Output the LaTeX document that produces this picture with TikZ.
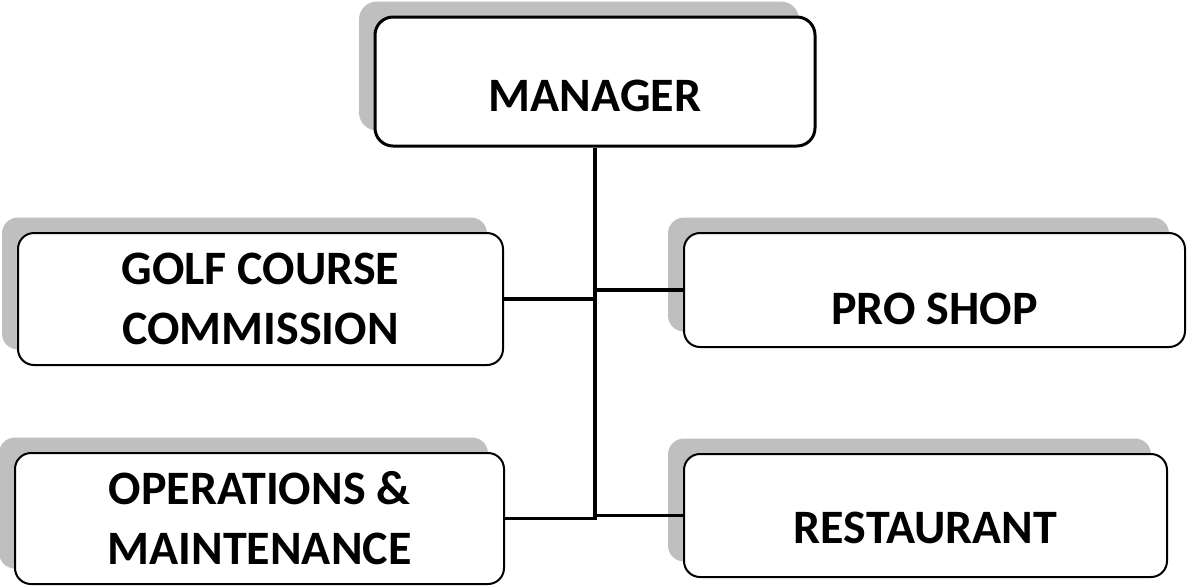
\documentclass[tikz,border=0pt]{standalone}
\usepackage{fontspec}
\setmainfont{Carlito}
\usetikzlibrary{shadows}

\begin{document}
\begin{tikzpicture}[every node/.style={font=\bfseries\fontsize{24pt}{30pt}\selectfont}, box/.style={draw, line width=1pt, rounded corners=8pt, fill=white, align=center, inner sep=0pt, drop shadow={shadow xshift=-8pt, shadow yshift=7.75pt, fill=black!25, opacity=1}}, conn/.style={line width=1.9pt}]
\useasboundingbox (0,0) rectangle (594pt,-293pt);
\node[box, line width=1.5pt, rounded corners=9pt, minimum width=220pt, minimum height=64.5pt, text height=30pt, text depth=0pt] (mgr) at (297.5pt,-40.75pt) {MANAGER};
\node[box, minimum width=242.5pt, minimum height=66pt] (gcc) at (130.25pt,-149.5pt) {GOLF COURSE\\COMMISSION};
\node[box, minimum width=250.5pt, minimum height=57pt, text height=34.4pt, text depth=0pt] (pro) at (467.25pt,-145pt) {PRO SHOP};
\node[box, minimum width=244.5pt, minimum height=65.5pt] (ops) at (129.75pt,-259.25pt) {OPERATIONS \&\\MAINTENANCE};
\node[box, minimum width=241.5pt, minimum height=61.5pt, text height=27.5pt, text depth=0pt] (rest) at (462.75pt,-257.75pt) {RESTAURANT};
\draw[conn] (mgr.south) -- (mgr.south |- ops.east) -- (ops.east);
\draw[conn] (gcc.east) -- (gcc.east -| mgr.south);
\draw[conn] (pro.west) -- (pro.west -| mgr.south);
\draw[conn] (rest.west) -- (rest.west -| mgr.south);
\end{tikzpicture}
\end{document}
